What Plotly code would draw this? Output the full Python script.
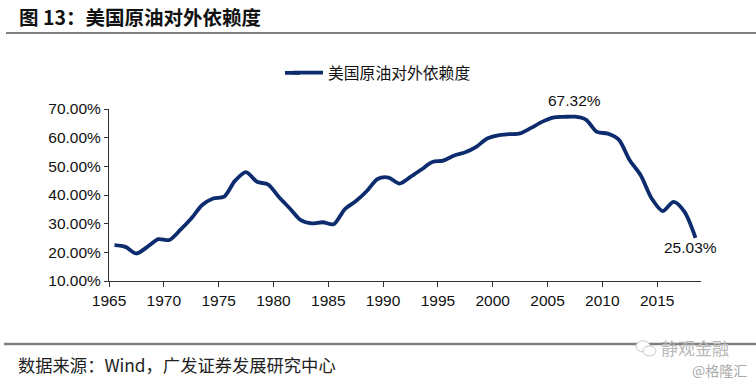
import plotly.graph_objects as go

years = list(range(1965, 2019))
dependence = [
    22.5, 21.9, 19.6, 21.9, 24.6, 24.3, 27.8, 31.8, 36.5, 38.8,
    39.4, 45.0, 48.0, 44.6, 43.7, 39.3, 35.3, 31.2, 30.1, 30.5,
    29.8, 35.0, 37.8, 41.3, 45.6, 46.1, 44.0, 46.3, 48.9, 51.5,
    52.0, 53.8, 54.9, 56.8, 59.7, 60.8, 61.2, 61.5, 63.4, 65.5,
    67.0, 67.25, 67.32, 66.3, 62.0, 61.4, 59.3, 52.1, 46.9, 38.8,
    34.4, 37.6, 34.1, 25.03,
]
series_name = "美国原油对外依赖度"
title_text = "图 13：美国原油对外依赖度"
source_text = "数据来源：Wind，广发证券发展研究中心"
x_tick_years = list(range(1965, 2016, 5))
y_ticks = [10, 20, 30, 40, 50, 60, 70]

# category-centred positions (Excel style)
xs = [y + 0.5 for y in years]

W, H = 756, 382
L, R, T, B = 109, 701, 108.7, 281


def px(x):
    return (x - L) / (R - L)


def py(y):
    return (B - y) / (B - T)


color = "#0C2C6E"
fig = go.Figure()
fig.add_trace(go.Scatter(
    x=xs, y=dependence, mode="lines", name=series_name,
    line=dict(color=color, width=3.8, shape="spline", smoothing=0.8),
))

peak_i = dependence.index(max(dependence))
last_i = len(dependence) - 1

annotations = [
    dict(x=xs[peak_i], y=dependence[peak_i], xref="x", yref="y",
         text=f"{dependence[peak_i]:.2f}%", showarrow=False,
         yanchor="bottom", yshift=6,
         font=dict(family="Liberation Sans, Arial", size=15.5, color="#111")),
    dict(x=xs[last_i], y=dependence[last_i], xref="x", yref="y",
         text=f"{dependence[last_i]:.2f}%", showarrow=False,
         yanchor="top", xshift=-5, yshift=1,
         font=dict(family="Liberation Sans, Arial", size=15.5, color="#111")),
    dict(x=px(17), y=py(16), xref="paper", yref="paper", text="<b>" + title_text + "</b>",
         showarrow=False, xanchor="left", yanchor="middle",
         font=dict(family="Noto Sans CJK SC", size=19.5, color="#111")),
    dict(x=px(16), y=py(365), xref="paper", yref="paper", text=source_text,
         showarrow=False, xanchor="left", yanchor="middle",
         font=dict(family="Noto Sans CJK SC", size=17.3, color="#222")),
    dict(x=px(731), y=py(348), xref="paper", yref="paper", text="静观金融",
         showarrow=False, xanchor="right", yanchor="middle",
         font=dict(family="Noto Sans CJK SC", size=17, color="#b8b8b8")),
    dict(x=px(749), y=py(370), xref="paper", yref="paper", text="@格隆汇",
         showarrow=False, xanchor="right", yanchor="middle",
         font=dict(family="Noto Sans CJK SC", size=14, color="#aaaaaa")),
]

shapes = [
    dict(type="line", xref="paper", yref="paper", x0=px(6), x1=px(756),
         y0=py(32.5), y1=py(32.5), line=dict(color="#808080", width=2)),
    dict(type="line", xref="paper", yref="paper", x0=px(4), x1=px(756),
         y0=py(344), y1=py(344), line=dict(color="#808080", width=2.5)),
    dict(type="circle", xref="paper", yref="paper", x0=px(636), x1=px(650),
         y0=py(352), y1=py(341), line=dict(color="#c8c8c8", width=1), fillcolor="white"),
    dict(type="circle", xref="paper", yref="paper", x0=px(643), x1=px(656),
         y0=py(356), y1=py(346), line=dict(color="#c8c8c8", width=1), fillcolor="white"),
    # extend the legend line sample to the reference's longer swatch
    dict(type="line", xref="paper", yref="paper", x0=px(285), x1=px(300),
         y0=py(72.5), y1=py(72.5), line=dict(color=color, width=3.8)),
]

fig.update_layout(
    width=W, height=H,
    margin=dict(l=L, r=W - R, t=T, b=H - B),
    paper_bgcolor="white", plot_bgcolor="white",
    showlegend=True,
    legend=dict(orientation="h", x=px(288), y=py(72.5), xanchor="left", yanchor="middle",
                font=dict(family="Noto Sans CJK SC", size=15.8, color="#111"),
                bgcolor="rgba(0,0,0,0)"),
    annotations=annotations,
    shapes=shapes,
    xaxis=dict(
        range=[1965, 2019], tickmode="array", tickvals=x_tick_years,
        ticktext=[str(v) for v in x_tick_years],
        showgrid=False, zeroline=False, showline=True, linecolor="#333", linewidth=1,
        ticks="outside", ticklen=5, tickcolor="#333",
        tickfont=dict(family="Liberation Sans, Arial", size=15.5, color="#111"),
    ),
    yaxis=dict(
        range=[10, 70], tickmode="array", tickvals=y_ticks,
        ticktext=[f"{v:.2f}%" for v in y_ticks],
        showgrid=False, zeroline=False, showline=True, linecolor="#333", linewidth=1,
        ticks="outside", ticklen=4, tickcolor="#333",
        tickfont=dict(family="Liberation Sans, Arial", size=15.5, color="#111"),
    ),
)

fig.write_html("out.html", config={"displayModeBar": False},
               post_script="document.body.style.margin='0';document.body.style.overflow='hidden';")
